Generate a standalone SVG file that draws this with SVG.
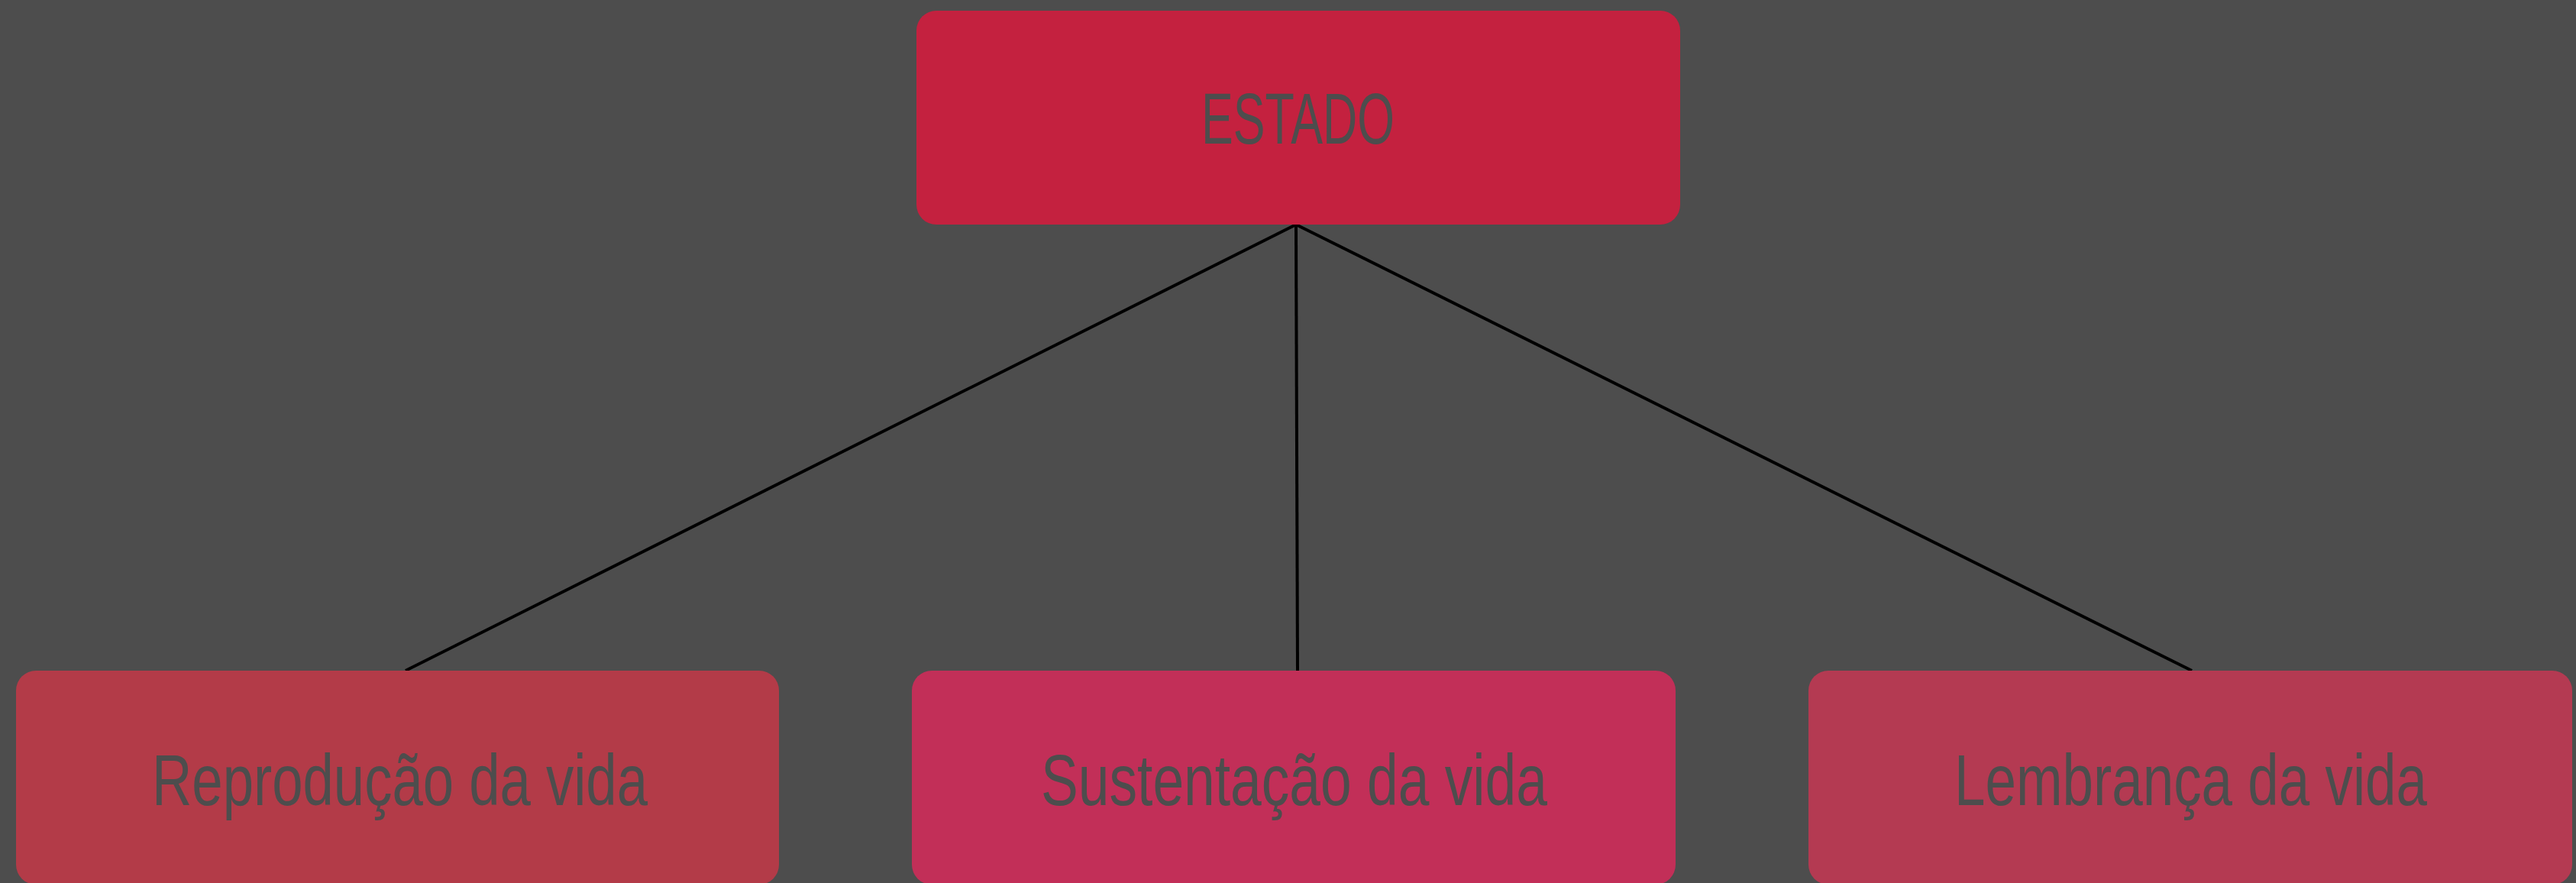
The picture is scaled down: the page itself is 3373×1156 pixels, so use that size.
<svg xmlns="http://www.w3.org/2000/svg" width="3373" height="1156" viewBox="0 0 3373 1156">
<style>
.lbl{font-family:"Liberation Sans","Open Sans",Arial,sans-serif;font-size:95px;fill:#4D4D4D;text-anchor:middle}
.conn{stroke:#000;stroke-width:4;fill:none}
</style>
<rect x="0" y="0" width="3373" height="1156" fill="#4D4D4D"/>
<g id="connectors">
<line class="conn" x1="1697" y1="294" x2="531" y2="878"/>
<line class="conn" x1="1697" y1="294" x2="1699" y2="880"/>
<line class="conn" x1="1697" y1="294" x2="2870" y2="878"/>
</g>
<g id="estado">
<rect x="1200" y="14" width="1000" height="280" rx="26" ry="26" fill="#C4213F"/>
<text class="lbl" x="1699.5" y="188" textLength="253" lengthAdjust="spacingAndGlyphs">ESTADO</text>
</g>
<g id="reproducao">
<rect x="21" y="878" width="999" height="280" rx="26" ry="26" fill="#B33B48"/>
<text class="lbl" x="523.5" y="1054" textLength="649" lengthAdjust="spacingAndGlyphs">Reprodução da vida</text>
</g>
<g id="sustentacao">
<rect x="1194" y="878" width="1000" height="280" rx="26" ry="26" fill="#C22F58"/>
<text class="lbl" x="1694.5" y="1054" textLength="663" lengthAdjust="spacingAndGlyphs">Sustentação da vida</text>
</g>
<g id="lembranca">
<rect x="2368" y="878" width="1000" height="280" rx="26" ry="26" fill="#B43A52"/>
<text class="lbl" x="2868.5" y="1054" textLength="619" lengthAdjust="spacingAndGlyphs">Lembrança da vida</text>
</g>
</svg>
